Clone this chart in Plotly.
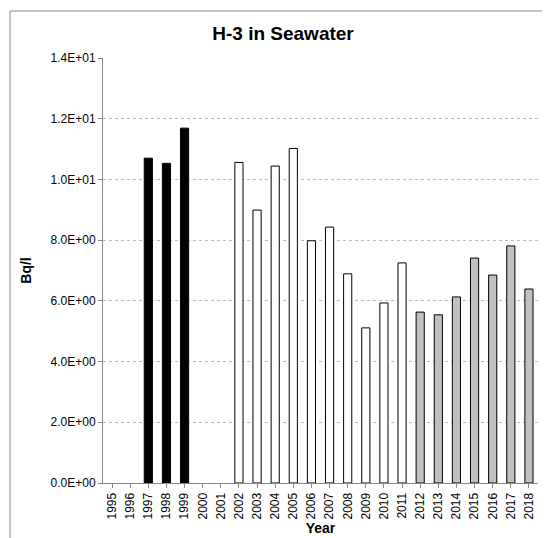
import plotly.graph_objects as go

years = [str(y) for y in range(1995, 2019)]
values = [None, None, 10.70, 10.53, 11.69, None, None, 10.56, 8.99, 10.44, 11.02, 7.98, 8.43,
          6.89, 5.11, 5.93, 7.25, 5.63, 5.54, 6.13, 7.41, 6.85, 7.81, 6.39]
colors = ["black"] * 5 + ["white"] * 2 + ["white"] * 10 + ["#c0c0c0"] * 7

L, R, T, B = 95, 20, 50, 63
W, H = 550, 538
pw, ph = W - L - R, H - T - B

fig = go.Figure(go.Bar(x=years, y=values, marker=dict(color=colors, line=dict(color="black", width=1))))
fig.update_layout(
    width=W, height=H, margin=dict(l=L, r=R, t=T, b=B),
    paper_bgcolor="white", plot_bgcolor="white", bargap=0.55, showlegend=False,
    font=dict(family="Liberation Sans, Arial", size=12, color="black"),
    title=dict(text="<b>H-3 in Seawater</b>", x=0.5, xanchor="center", y=0.965, font=dict(size=19)),
    shapes=[dict(type="rect", xref="paper", yref="paper", x0=-(L - 2) / pw, x1=1 + (R - 4) / pw,
                 y0=-(B - 3) / ph, y1=1 + (T - 3) / ph, line=dict(color="#888", width=1))],
)
fig.update_xaxes(title=dict(text="<b>Year</b>", font=dict(size=14), standoff=4), tickangle=-90,
                 showline=True, linecolor="#888", ticks="outside", tickcolor="#888", ticklen=4)
fig.update_yaxes(title=dict(text="<b>Bq/l</b>", font=dict(size=14)), range=[0, 14],
                 showgrid=True, gridcolor="#bbb", griddash="dot", showline=True, linecolor="#888",
                 ticks="outside", tickcolor="#888", ticklen=4, zeroline=False,
                 tickvals=[0, 2, 4, 6, 8, 10, 12, 14],
                 ticktext=["0.0E+00", "2.0E+00", "4.0E+00", "6.0E+00", "8.0E+00", "1.0E+01", "1.2E+01", "1.4E+01"])
fig.write_html("out.html")
